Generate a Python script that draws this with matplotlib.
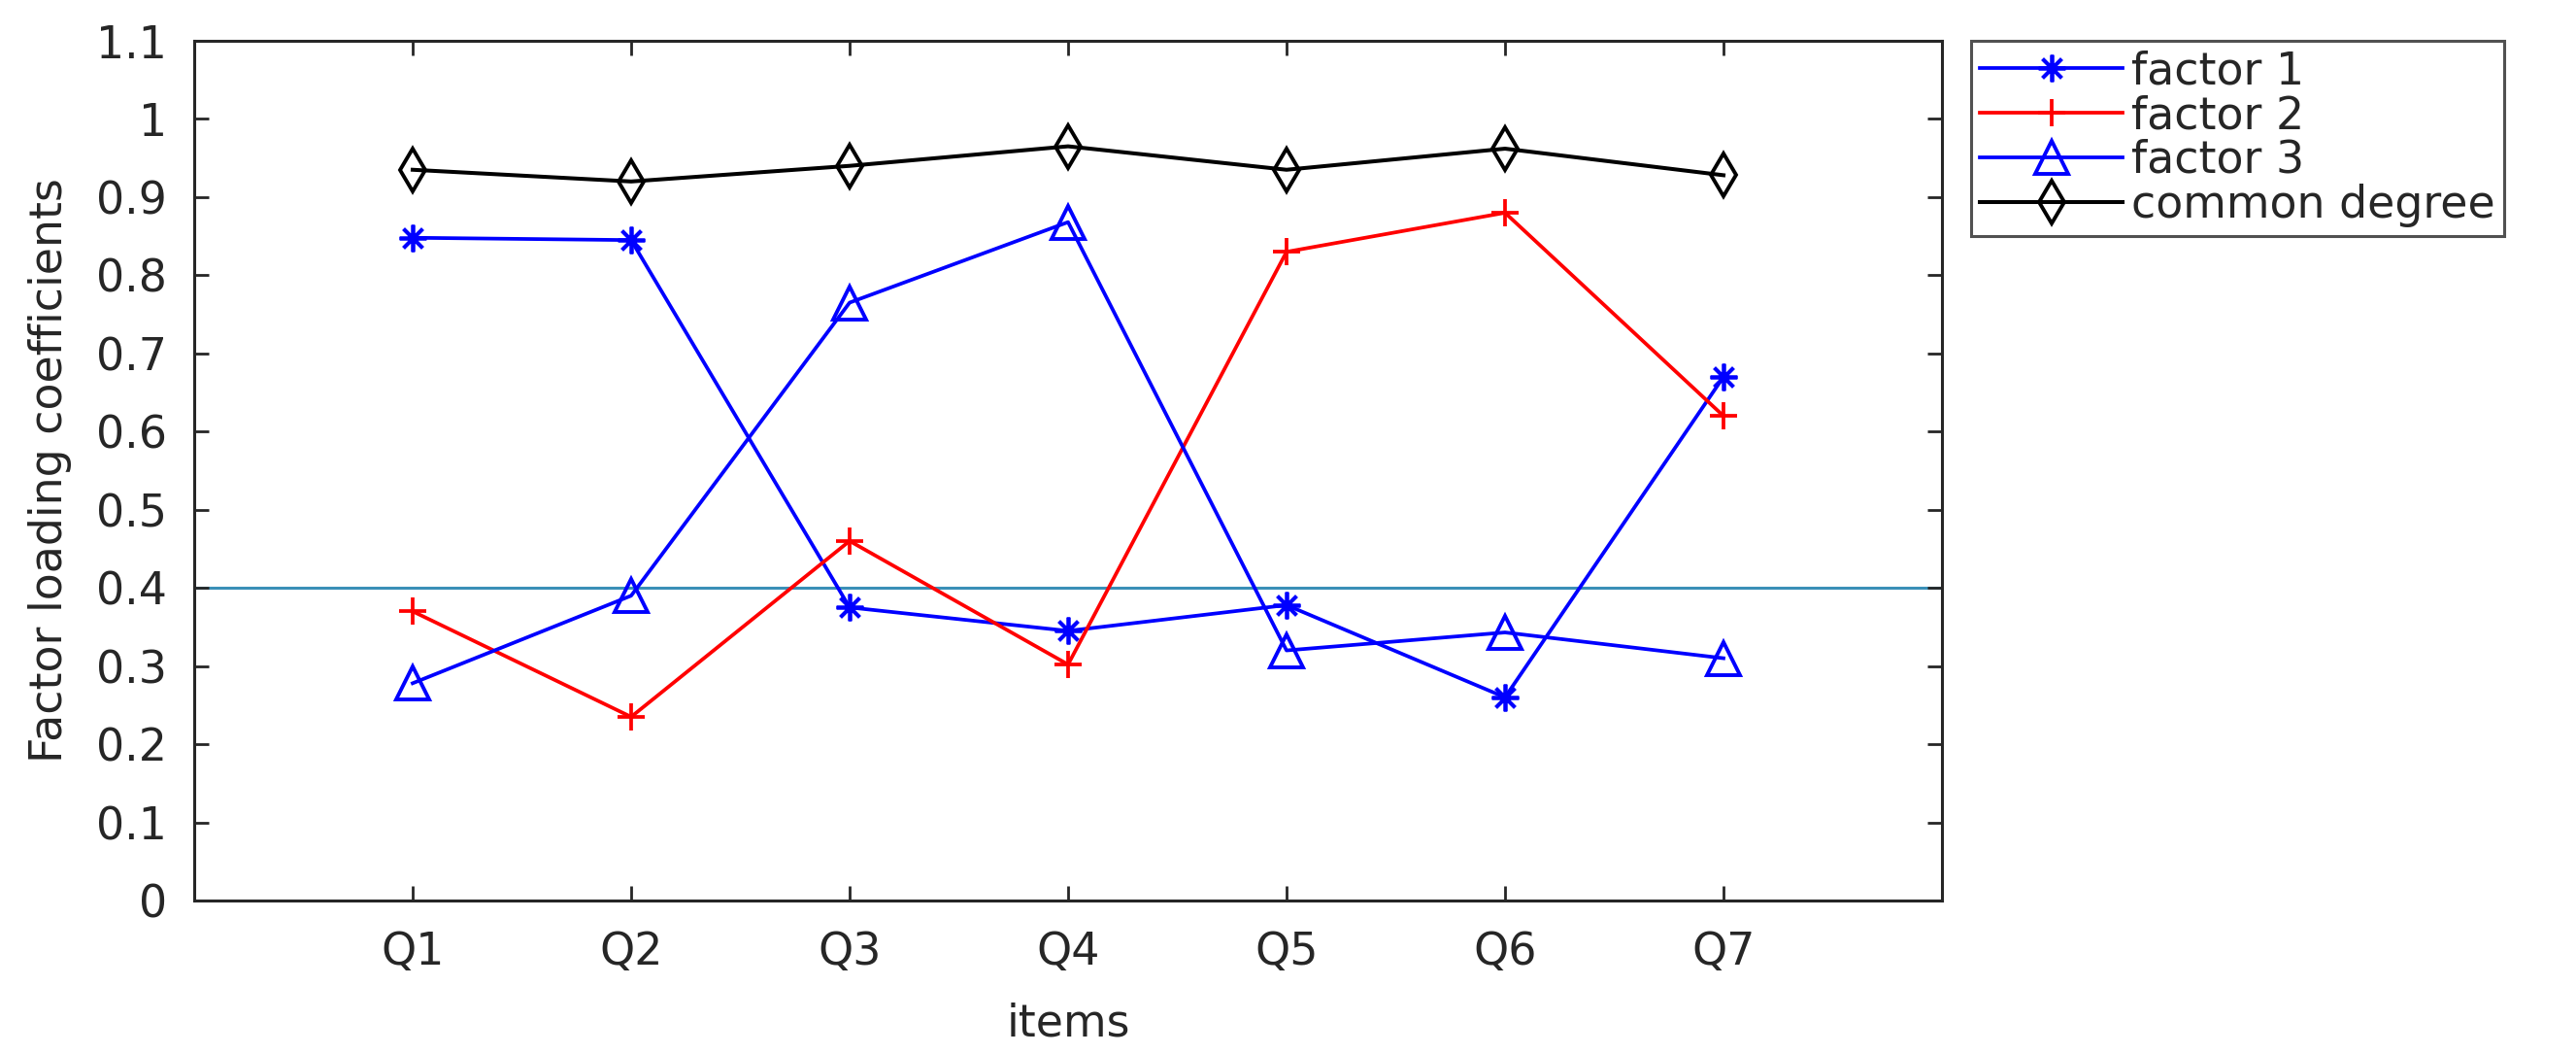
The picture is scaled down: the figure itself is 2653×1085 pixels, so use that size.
import matplotlib
matplotlib.use("Agg")
import matplotlib.pyplot as plt
import numpy as np

items = ["Q1", "Q2", "Q3", "Q4", "Q5", "Q6", "Q7"]
factor1 = [0.848, 0.845, 0.375, 0.345, 0.378, 0.260, 0.670]
factor2 = [0.370, 0.235, 0.460, 0.302, 0.830, 0.880, 0.620]
factor3 = [0.278, 0.390, 0.765, 0.868, 0.320, 0.343, 0.310]
common_degree = [0.935, 0.920, 0.940, 0.965, 0.935, 0.962, 0.928]
threshold = 0.4
y_ticks = [0, 0.1, 0.2, 0.3, 0.4, 0.5, 0.6, 0.7, 0.8, 0.9, 1, 1.1]
y_tick_labels = ["0", "0.1", "0.2", "0.3", "0.4", "0.5", "0.6", "0.7", "0.8", "0.9", "1", "1.1"]

plt.rcParams["font.family"] = ["DejaVu Sans"]
TEXT = "#262626"

W, H = 2653, 1085
fig = plt.figure(figsize=(W / 100, H / 100), dpi=100)
ax = fig.add_axes([200 / W, 1 - 927 / H, 1800 / W, 885 / H])

x = np.arange(1, len(items) + 1)
asterisk = (8, 2, 0)

ax.axhline(threshold, color="#3a8fb7", linewidth=2.2, zorder=1)
ax.plot(x, factor1, color="#0000ff", linewidth=2.7, marker=asterisk, markersize=20,
        markeredgewidth=2.7, label="factor 1")
ax.plot(x, factor2, color="#ff0000", linewidth=2.7, marker="+", markersize=20,
        markeredgewidth=2.7, label="factor 2")
ax.plot(x, factor3, color="#0000ff", linewidth=2.7, marker="^", markersize=25,
        markerfacecolor="none", markeredgewidth=2.8, label="factor 3")
ax.plot(x, common_degree, color="black", linewidth=2.9, marker="d", markersize=22,
        markerfacecolor="none", markeredgewidth=2.8, label="common degree")

ax.set_xlim(0, len(items) + 1)
ax.set_ylim(0, 1.1)
ax.set_xticks(x)
ax.set_xticklabels(items)
ax.set_yticks(y_ticks)
ax.set_yticklabels(y_tick_labels)

ax.tick_params(direction="in", length=11, width=2, labelsize=33, colors=TEXT,
               top=True, right=True)
ax.tick_params(axis="y", pad=20)
ax.tick_params(axis="x", pad=22)
for spine in ax.spines.values():
    spine.set_linewidth(2.2)
    spine.set_color(TEXT)

ax.set_xlabel("items", fontsize=33, color=TEXT)
ax.set_ylabel("Factor loading coefficients", fontsize=33, color=TEXT)
ax.xaxis.set_label_coords(0.5, -0.118)
ax.yaxis.set_label_coords(-0.070, 0.5)

leg = ax.legend(loc="upper left", bbox_to_anchor=(2030 / W, 1 - 42 / H),
                bbox_transform=fig.transFigure, fontsize=33, frameon=True,
                fancybox=False, edgecolor=TEXT, borderaxespad=0,
                handlelength=3.2, labelspacing=0.02, handletextpad=0.2,
                borderpad=0.2)
leg.get_frame().set_linewidth(2.2)
for t in leg.get_texts():
    t.set_color(TEXT)

fig.savefig("out.png", dpi=100)
